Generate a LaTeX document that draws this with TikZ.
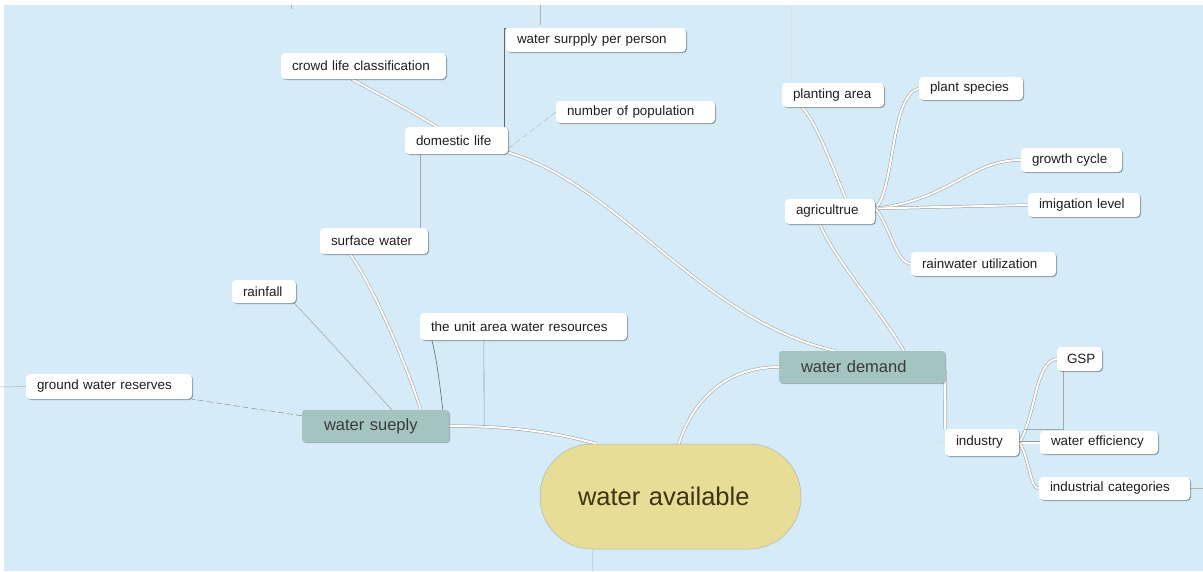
\documentclass[tikz,border=0pt]{standalone}
\usepackage{fontspec}
\setmainfont{Liberation Sans}
\usetikzlibrary{shadows,calc}
\definecolor{bgblue}{HTML}{D5ECF8}
\definecolor{boxgreen}{HTML}{A4C5BF}
\definecolor{boxyellow}{HTML}{E8DD97}
\definecolor{leaftext}{HTML}{1E1E1E}
\definecolor{greentext}{HTML}{3A3A3A}
\definecolor{yellowtext}{HTML}{3B3510}
\pgfdeclarelayer{back}
\pgfsetlayers{back,main}
\begin{document}
\begin{tikzpicture}[x=1pt,y=-1pt,
  leaf/.style={fill=white, rounded corners=4pt, inner xsep=11pt, inner ysep=0pt, align=left,
    font=\fontsize{13.4}{15}\selectfont, text=leaftext,
    drop shadow={shadow xshift=1pt, shadow yshift=-1pt, fill=black, opacity=0.35}},
  mainbox/.style={fill=boxgreen, rounded corners=3pt, inner xsep=22pt, inner ysep=0pt, align=left,
    font=\fontsize{16.5}{18}\selectfont, text=greentext,
    drop shadow={shadow xshift=1pt, shadow yshift=-1pt, fill=black, opacity=0.25}},
  rootbox/.style={fill=boxyellow, draw=black!30, line width=0.5pt, rounded corners=52pt,
    inner xsep=38pt, inner ysep=0pt, align=left, font=\fontsize{25.5}{28}\selectfont, text=yellowtext},
  conn/.style={draw=black!40, line width=0.5pt, double=white, double distance=2pt},
  thinl/.style={draw=black!45, line width=0.6pt},
  faintl/.style={draw=black!30, line width=0.5pt},
  dashl/.style={draw=black!40, line width=0.6pt, dash pattern=on 6pt off 3pt},
]
\useasboundingbox (0,0) rectangle (1203,571);
% nodes
\node[rootbox, minimum height=105pt, text width=185pt] (root) at (670.5,496.5) {water available};
\node[mainbox, minimum height=32pt, text width=103pt] (sueply) at (375.5,426) {water sueply};
\node[mainbox, minimum height=32pt, text width=122pt] (demand) at (862,367) {water demand};

\node[leaf, minimum height=26pt, text width=143pt] (crowd) at (363.5,66) {crowd life classification};
\node[leaf, minimum height=24pt, text width=158pt] (surpply) at (596,40) {water surpply per person};
\node[leaf, minimum height=22pt, text width=137pt] (population) at (635.5,112) {number of population};
\node[leaf, minimum height=27pt, text width=81pt] (domestic) at (456.5,140.5) {domestic life};
\node[leaf, minimum height=26pt, text width=86pt] (surface) at (374,241) {surface water};
\node[leaf, minimum height=23pt, text width=42pt] (rainfall) at (264,291.5) {rainfall};
\node[leaf, minimum height=27pt, text width=185pt] (unit) at (523.5,326.5) {the unit area water resources};
\node[leaf, minimum height=25pt, text width=144pt] (ground) at (109,386.5) {ground water reserves};

\node[leaf, minimum height=24pt, text width=80pt] (planting) at (833,95) {planting area};
\node[leaf, minimum height=23pt, text width=82pt] (species) at (971,88.5) {plant species};
\node[leaf, minimum height=24pt, text width=79pt] (growth) at (1071.5,160) {growth cycle};
\node[leaf, minimum height=24pt, text width=90pt] (imigation) at (1084,205) {imigation level};
\node[leaf, minimum height=25pt, text width=68pt] (agri) at (830,211.5) {agricultrue};
\node[leaf, minimum height=24pt, text width=123pt] (rainwater) at (983.5,264) {rainwater utilization};

\node[leaf, minimum height=27pt, text width=52pt] (industry) at (982,442.5) {industry};
\node[leaf, minimum height=24pt, text width=25pt, inner xsep=10pt] (gsp) at (1079.5,359) {GSP};
\node[leaf, minimum height=23pt, text width=96pt] (efficiency) at (1099,442.5) {water efficiency};
\node[leaf, minimum height=23pt, text width=129pt] (categories) at (1114.5,488.5) {industrial categories};

\coordinate (topA) at (540,5);
\coordinate (topB) at (791,5);
\coordinate (topC) at (291,5);
\coordinate (leftend) at (0,387);
\coordinate (rightend) at (1203,488.5);
\coordinate (bottomend) at (593,571);
\coordinate (indstub) at (934,443);

\begin{pgfonlayer}{back}
\fill[white] (0,0) rectangle (1203,571);
\fill[bgblue] (4,5) rectangle (1203,571);
% stray fragments
\draw[faintl] (topA) -- ++(0,20);
\draw[draw=black!12, line width=0.5pt] (topB) -- ++(0,75);
\draw[faintl] (topC) -- ++(0,4);
% root connectors
\draw[conn] ([xshift=57pt]root.north west) .. controls (560,434) and (520,426) .. (sueply.east);
\draw[conn] ([xshift=139pt]root.north west) .. controls (695,395) and (730,367) .. (demand.west);
\draw[faintl] ([xshift=53pt]root.south west) -- (bottomend);
% water sueply branch
\draw[conn] ([xshift=119pt]sueply.north west) .. controls (405,360) and (370,280) .. ([xshift=30pt]surface.south west);
\draw[thinl, draw=black!35] ([xshift=90pt]sueply.north west) .. controls (360,375) and (320,330) .. ([xshift=-2pt]rainfall.south east);
\draw[dashl] ([yshift=-6pt]sueply.north west) -- (ground.south east);
\draw[thinl, draw=black!60] ([xshift=141pt]sueply.north west) .. controls (440,385) and (436,355) .. ([xshift=12pt]unit.south west);
\draw[thinl, draw=black!40] ([xshift=64pt]unit.south west) -- ([xshift=35pt]sueply.east);
\draw[faintl] (leftend) -- (ground.west);
% domestic life
\draw[conn] ([yshift=-12pt]domestic.east) .. controls (620,185) and (700,320) .. ([xshift=56pt]demand.north west);
\draw[conn] ([xshift=32pt]domestic.north west) .. controls (410,110) and (380,95) .. ([xshift=71pt]crowd.south west);
\draw[thinl, draw=black!60] ([xshift=99pt]domestic.north west) -- ([xshift=-2pt]surpply.south west) |- (surpply.north west);
\draw[dashl, draw=black!25] ([yshift=-8pt]domestic.east) -- (population.west);
\draw[thinl, draw=black!35] ([xshift=15pt]domestic.south west) -- ([xshift=100pt]surface.north west);
% agriculture
\draw[conn] ([xshift=125pt]demand.north west) .. controls (880,310) and (835,260) .. ([xshift=35pt]agri.south west);
\draw[conn] ([xshift=61pt]agri.north west) .. controls (830,160) and (815,120) .. ([xshift=20pt]planting.south west);
\draw[conn] ([yshift=3pt]agri.east) .. controls (895,190) and (890,95) .. (species.west);
\draw[conn] ([yshift=3pt]agri.east) .. controls (950,200) and (970,160) .. (growth.west);
\draw[conn] ([yshift=3pt]agri.east) -- (imigation.west);
\draw[conn] ([yshift=3pt]agri.east) .. controls (890,225) and (895,262) .. (rainwater.west);
% industry
\draw[conn] ([yshift=-3pt]demand.east) -- (industry.north west);
\draw[conn] (industry.east) .. controls (1035,420) and (1035,360) .. (gsp.west);
\draw[conn] (industry.east) -- (efficiency.west);
\draw[conn] (industry.east) .. controls (1030,460) and (1030,488.5) .. (categories.west);
\draw[thinl, draw=black!35] ([xshift=6pt]gsp.south west) |- ([xshift=6pt]industry.north east);
\draw[faintl] (categories.east) -- (rightend);
\draw[faintl, draw=black!15] (indstub) -- (industry.west);
\end{pgfonlayer}
\end{tikzpicture}
\end{document}
